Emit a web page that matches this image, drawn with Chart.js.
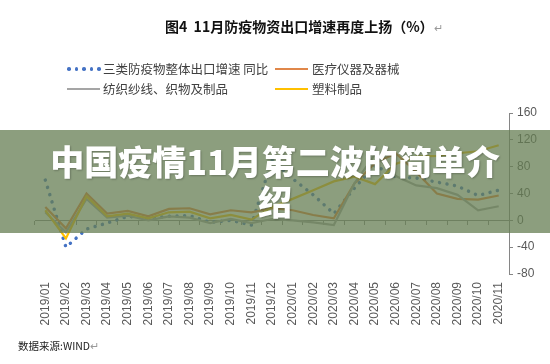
<!DOCTYPE html>
<html>
<head>
<meta charset="utf-8">
<script src="https://cdn.jsdelivr.net/npm/chart.js@4.4.1/dist/chart.umd.min.js"></script>
<style>
  body { margin: 0; background: #fff; }
  #wrap { position: relative; width: 550px; height: 364px; overflow: hidden; font-family: "Noto Sans CJK SC", sans-serif; }
  #chart { position: absolute; left: 0; top: 0; }
  .abs { position: absolute; white-space: nowrap; }
  #title { left: 165px; top: 16px; font-size: 14px; font-weight: 700; color: #111; }
  #title .ret { color: #999; font-weight: 400; font-size: 11px; }
  .lg { font-size: 12.5px; color: #404040; line-height: 16px; }
  .mk { position: absolute; height: 2px; width: 33px; }
  #source { left: 18px; top: 338px; font-size: 10.5px; color: #222; }
  #banner { left: 0; top: 130px; width: 550px; height: 103px; background: rgba(101,125,83,0.75); }
  #btext { left: 0; top: 141px; width: 550px; text-align: center; color: #fff; font-size: 34px; font-weight: 900; line-height: 40px; text-shadow: 1px 1px 2px rgba(0,0,0,0.25); }
</style>
</head>
<body>
<div id="wrap">
  <canvas id="chart" width="550" height="364"></canvas>
  <div id="title" class="abs">图4&nbsp;&nbsp;11月防疫物资出口增速再度上扬（%）<span class="ret">↵</span></div>

  <div class="abs lg" style="left:67px;top:61px;"><span id="dots"></span></div>
  <div class="abs lg" style="left:103px;top:61px;">三类防疫物整体出口增速 同比</div>
  <div class="mk abs" style="left:275px;top:68px;background:#e0874a;"></div>
  <div class="abs lg" style="left:312px;top:61px;">医疗仪器及器械</div>
  <div class="mk abs" style="left:67px;top:88px;background:#a5a5a5;"></div>
  <div class="abs lg" style="left:103px;top:81px;">纺织纱线、织物及制品</div>
  <div class="mk abs" style="left:275px;top:88px;background:#ffc000;"></div>
  <div class="abs lg" style="left:312px;top:81px;">塑料制品</div>

  <div id="source" class="abs">数据来源:WIND<span style="color:#999">↵</span></div>
  <div id="banner" class="abs"></div>
  <div id="btext" class="abs">中国疫情11月第二波的简单介<br>绍</div>
</div>
<script>
const months = ['2019/01','2019/02','2019/03','2019/04','2019/05','2019/06','2019/07','2019/08','2019/09','2019/10','2019/11','2019/12',
  '2020/01','2020/02','2020/03','2020/04','2020/05','2020/06','2020/07','2020/08','2020/09','2020/10','2020/11'];
const epidemicTotal = [60, -40, -13, -4, 6, 3, 6, 7, -3, 0, -7, 90, 62, 38, 10, 48, 82, 65, 63, 57, 51, 37, 45];
const medical = [20, -12, 40, 10, 14, 6, 17, 18, 9, 15, 12, 18, 15, 8, 3, 55, 85, 100, 72, 40, 32, 31, 37];
const textile = [12, -18, 32, 4, 7, 0, 6, 4, -4, 2, -4, 2, 0, -3, -7, 55, 98, 66, 52, 48, 38, 15, 21];
const plastic = [15, -27, 36, 6, 10, 3, 12, 13, 3, 8, 1, 20, 32, 45, 58, 65, 54, 84, 95, 96, 100, 103, 112];
const yTicks = [-80, -40, 0, 40, 80, 120, 160];

// legend dots for the dotted series
const dotBox = document.getElementById('dots');
for (let i = 0; i < 5; i++) {
  const d = document.createElement('span');
  d.style.cssText = 'position:absolute;top:6px;width:3.5px;height:3.5px;border-radius:50%;background:#4472c4;left:' + (i * 7.6) + 'px';
  dotBox.appendChild(d);
}

const axisGray = '#868686';
const tickFont = { family: 'Liberation Sans, Arial, sans-serif', size: 12 };

const ctx = document.getElementById('chart').getContext('2d');
new Chart(ctx, {
  type: 'line',
  data: {
    labels: months,
    datasets: [
      { label: '三类防疫物整体出口增速 同比', data: epidemicTotal, borderColor: '#4472c4', borderWidth: 3.5,
        borderDash: [0.01, 7.6], borderCapStyle: 'round', order: 4 },
      { label: '医疗仪器及器械', data: medical, borderColor: '#ed7d31', borderWidth: 2.2, order: 3 },
      { label: '纺织纱线、织物及制品', data: textile, borderColor: '#a5a5a5', borderWidth: 2.2, order: 2 },
      { label: '塑料制品', data: plastic, borderColor: '#ffc000', borderWidth: 2.2, order: 1 }
    ]
  },
  options: {
    responsive: false,
    animation: false,
    devicePixelRatio: 1,
    layout: { padding: { left: 35, top: 113, right: 0, bottom: 0 } },
    elements: { point: { radius: 0 }, line: { tension: 0, fill: false } },
    plugins: { legend: { display: false }, tooltip: { enabled: false } },
    scales: {
      x: {
        type: 'category',
        position: 'bottom',
        offset: true,
        border: { display: false },
        grid: { display: false, drawTicks: false },
        ticks: { color: '#595959', font: tickFont, minRotation: 90, maxRotation: 90, padding: 8, autoSkip: false },
        afterFit: s => { s.height = 90; }
      },
      x2: {
        type: 'category',
        labels: months,
        position: { y: 0 },
        offset: true,
        border: { display: true, color: axisGray, width: 1 },
        grid: { offset: true, drawOnChartArea: false, drawTicks: true, tickLength: 4, color: axisGray },
        ticks: { display: false },
        afterFit: s => { s.height = 0; }
      },
      y: {
        position: 'right',
        min: -80,
        max: 160,
        afterBuildTicks: s => { s.ticks = yTicks.map(v => ({ value: v })); },
        border: { display: true, color: axisGray, width: 1 },
        grid: { drawOnChartArea: false, drawTicks: true, tickLength: 4, color: axisGray },
        ticks: { color: '#595959', font: tickFont, padding: 4 },
        afterFit: s => { s.width = 41; }
      }
    }
  }
});
</script>
</body>
</html>
